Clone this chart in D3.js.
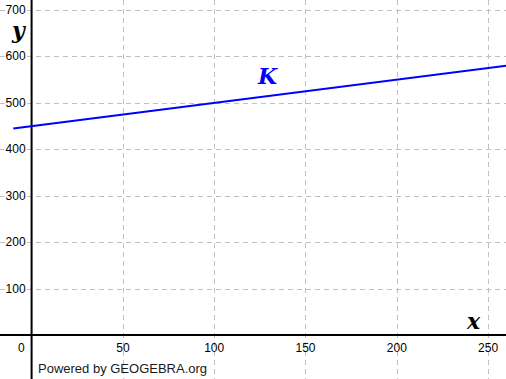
<!DOCTYPE html>
<html>
<head>
<meta charset="utf-8">
<script src="https://cdn.jsdelivr.net/npm/d3@7"></script>
<style>
  body { margin: 0; background: #fff; }
  svg { display: block; }
</style>
</head>
<body>
<svg id="chart" width="506" height="379"></svg>
<script>
// values
const xTicks = [50, 100, 150, 200, 250];
const yTicks = [100, 200, 300, 400, 500, 600, 700];
const lineX = [-10, 260];
const lineY = [445, 580];
const curveName = "K";

const width = 506, height = 379;
const svg = d3.select("#chart");

const x = d3.scaleLinear().domain([-17.3, 259.8]).range([0, width]);
const y = d3.scaleLinear().domain([-94.5, 721.5]).range([height, 0]);

// grid
const grid = svg.append("g")
  .attr("stroke", "#c0c0c0")
  .attr("stroke-width", 1)
  .attr("stroke-dasharray", "5,4");
grid.selectAll("line.v").data(xTicks).join("line")
  .attr("x1", d => Math.round(x(d)) + 0.5).attr("x2", d => Math.round(x(d)) + 0.5)
  .attr("y1", 0).attr("y2", height);
grid.selectAll("line.h").data(yTicks).join("line")
  .attr("y1", d => Math.round(y(d)) + 0.5).attr("y2", d => Math.round(y(d)) + 0.5)
  .attr("x1", 0).attr("x2", width);

// axes
svg.append("line")
  .attr("x1", 0).attr("x2", width)
  .attr("y1", y(0)).attr("y2", y(0))
  .attr("stroke", "#000").attr("stroke-width", 2);
svg.append("line")
  .attr("x1", x(0)).attr("x2", x(0))
  .attr("y1", 0).attr("y2", height)
  .attr("stroke", "#000").attr("stroke-width", 2);

// tick labels
const lab = svg.append("g")
  .attr("font-family", "Liberation Sans, Arial, sans-serif")
  .attr("font-size", 12)
  .attr("fill", "#000");
lab.selectAll("text.x").data(xTicks).join("text")
  .attr("x", d => x(d))
  .attr("y", y(0) + 17)
  .attr("text-anchor", "middle")
  .text(d => d);
lab.selectAll("text.y").data(yTicks).join("text")
  .attr("x", x(0) - 6)
  .attr("y", d => y(d) + 4)
  .attr("text-anchor", "end")
  .attr("stroke", "#fff").attr("stroke-width", 3).attr("paint-order", "stroke")
  .text(d => d);
lab.append("text")
  .attr("x", x(0) - 7)
  .attr("y", y(0) + 17)
  .attr("text-anchor", "end")
  .text(0);

// axis names
const serif = "DejaVu Serif, Liberation Serif, serif";
svg.append("text")
  .attr("x", 12).attr("y", 38)
  .attr("font-family", serif).attr("font-size", 22)
  .attr("font-style", "italic").attr("font-weight", "bold")
  .text("y");
svg.append("text")
  .attr("x", 467).attr("y", 329)
  .attr("font-family", serif).attr("font-size", 22)
  .attr("font-style", "italic").attr("font-weight", "bold")
  .text("x");

// the line K
const pts = lineX.map((d, i) => [d, lineY[i]]);
svg.append("path")
  .datum(pts)
  .attr("d", d3.line().x(d => x(d[0])).y(d => y(d[1])))
  .attr("stroke", "#0000ff")
  .attr("stroke-width", 2)
  .attr("fill", "none");
svg.append("text")
  .attr("x", 258).attr("y", 84)
  .attr("font-family", serif).attr("font-size", 22)
  .attr("font-style", "italic").attr("font-weight", "bold")
  .attr("fill", "#0000ff")
  .text(curveName);

svg.append("text")
  .attr("x", 38).attr("y", 373)
  .attr("font-family", "Liberation Sans, Arial, sans-serif")
  .attr("font-size", 13)
  .attr("fill", "#1a1a1a")
  .text("Powered by GEOGEBRA.org");
</script>
</body>
</html>
